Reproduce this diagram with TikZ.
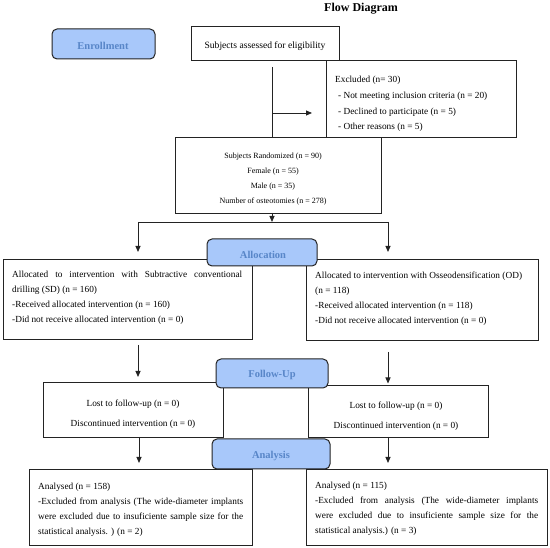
\documentclass[tikz,border=0pt]{standalone}
\usepackage{fontspec}
\setmainfont{Liberation Serif}
\usetikzlibrary{arrows.meta,fit}
\definecolor{bfill}{RGB}{168,200,250}
\definecolor{btext}{RGB}{88,134,200}
\definecolor{edge}{RGB}{35,35,35}
\tikzset{
  wbox/.style={draw=edge, line width=0.8pt, fill=white, inner sep=0pt, outer sep=0pt},
  bbox/.style={draw=edge, line width=1pt, fill=bfill, rounded corners=5pt, inner sep=0pt, outer sep=0pt},
  btxt/.style={text=btext, font=\fontsize{10.5}{12}\selectfont\bfseries, inner sep=0pt},
  txt/.style={inner sep=0pt, align=left, font=\fontsize{9.3}{15}\selectfont},
  ctxt/.style={inner sep=0pt, align=center, font=\fontsize{9.3}{15}\selectfont},
  conn/.style={draw=edge, line width=0.8pt},
  arr/.style={conn, -{Triangle[length=6pt,width=5pt]}}
}
\begin{document}
\begin{tikzpicture}[x=1pt,y=-1pt]
\useasboundingbox (0,0) rectangle (550,548);
\fill[white] (0,0) rectangle (550,548);

% title
\node[font=\fontsize{12}{14}\selectfont\bfseries, inner sep=0pt] (title) at (361,9) {Flow Diagram};

% white boxes
\node[wbox, fit={(191,26) (339,60)}] (assess) {};
\node[wbox, fit={(326,60) (516,137)}] (excl) {};
\node[wbox, fit={(175,137) (381,213)}] (rand) {};
\node[wbox, fit={(3,259) (252,339)}] (alloL) {};
\node[wbox, fit={(306,259) (538,340)}] (alloR) {};
\node[wbox, fit={(43,382) (223,437)}] (fuL) {};
\node[wbox, fit={(308,385) (488,437)}] (fuR) {};
\node[wbox, fit={(29,469) (252,545)}] (anL) {};
\node[wbox, fit={(306,469) (547,545)}] (anR) {};

% texts
\node[inner sep=0pt, font=\fontsize{9.6}{11}\selectfont] (assesst) at (265,46) {Subjects assessed for eligibility};
\node[txt, anchor=north west, font=\fontsize{9.3}{15.7}\selectfont] (exclt) at (335,76) {Excluded (n= 30)\\
\hspace*{3pt}- Not meeting inclusion criteria (n = 20)\\
\hspace*{3pt}- Declined to participate (n = 5)\\
\hspace*{3pt}- Other reasons (n = 5)};
\node[ctxt, anchor=north, font=\fontsize{8}{15}\selectfont] (randt) at (273,153) {Subjects Randomized (n = 90)\\
Female (n = 55)\\
Male (n = 35)\\
Number of osteotomies (n = 278)};
\node[txt, anchor=north west] (alloLt) at (12,271) {\makebox[230pt][s]{Allocated to intervention with Subtractive conventional}\\
drilling (SD) (n = 160)\\
-Received allocated intervention (n = 160)\\
-Did not receive allocated intervention (n = 0)};
\node[txt, anchor=north west] (alloRt) at (315,272) {Allocated to intervention with Osseodensification (OD)\\
(n = 118)\\
-Received allocated intervention (n = 118)\\
-Did not receive allocated intervention (n = 0)};
\node[ctxt, anchor=north, font=\fontsize{9.3}{20}\selectfont] (fuLt) at (133,400) {Lost to follow-up (n = 0)\\
Discontinued intervention (n = 0)};
\node[ctxt, anchor=north, font=\fontsize{9.3}{19.5}\selectfont] (fuRt) at (396,402) {Lost to follow-up (n = 0)\\
Discontinued intervention (n = 0)};
\node[txt, anchor=north west] (anLt) at (38,483) {Analysed (n = 158)\\
\makebox[205pt][s]{-Excluded from analysis (The wide-diameter implants}\\
\makebox[205pt][s]{were excluded due to insuficiente sample size for the}\\
statistical analysis. ) (n = 2)};
\node[txt, anchor=north west] (anRt) at (315,482) {Analysed (n = 115)\\
\makebox[223pt][s]{-Excluded from analysis (The wide-diameter implants}\\
\makebox[223pt][s]{were excluded due to insuficiente sample size for the}\\
statistical analysis.) (n = 3)};

% blue boxes
\node[bbox, fit={(52,29) (155,59)}] (enrol) {};
\node[btxt] (enrolt) at (103,45.5) {Enrollment};
\node[bbox, fit={(207,239) (317,266)}] (alloc) {};
\node[btxt] (alloct) at (263,255) {Allocation};
\node[bbox, fit={(216,359) (328,388)}] (fu) {};
\node[btxt] (fut) at (272,375) {Follow-Up};
\node[bbox, fit={(212,439) (330,469)}] (an) {};
\node[btxt] (ant) at (271,455.5) {Analysis};

% connectors
\coordinate (v1) at (272,67);
\coordinate (h1) at (272,113);
\coordinate (sL) at (138,222);
\coordinate (sR) at (388,222);
\coordinate (dL) at (139,437);
\draw[conn] (v1) -- (v1 |- rand.north);
\draw[arr, shorten >=14pt] (h1) -- (h1 -| excl.west);
\draw[arr] (rand.south -| v1) -- (v1 |- sL);
\draw[conn] (sL) -- (sR);
\draw[arr, shorten >=7pt] (sL) -- (sL |- alloL.north);
\draw[arr, shorten >=7pt] (sR) -- (sR |- alloR.north);
\draw[arr, shorten <=6pt, shorten >=5pt] (alloL.south -| sL) -- (sL |- fuL.north);
\draw[arr, shorten <=12pt, shorten >=1.5pt] (alloR.south -| sR) -- (sR |- fuR.north);
\draw[arr, shorten >=6pt] (fuL.south -| dL) -- (dL |- anL.north);
\draw[arr, shorten >=6pt] (fuR.south -| sR) -- (sR |- anR.north);
\end{tikzpicture}
\end{document}
